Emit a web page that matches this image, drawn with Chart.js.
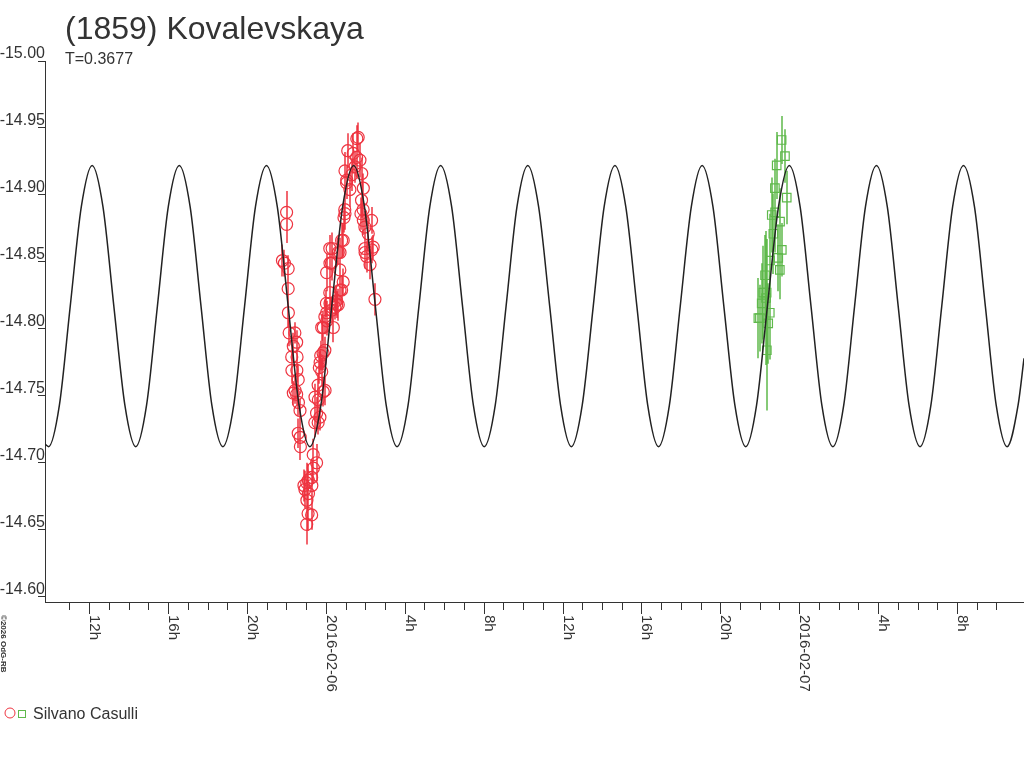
<!DOCTYPE html>
<html>
<head>
<meta charset="utf-8">
<title>(1859) Kovalevskaya</title>
<script src="https://cdn.jsdelivr.net/npm/chart.js@4.4.1/dist/chart.umd.min.js"></script>
<style>
  html, body { margin: 0; padding: 0; background: #fff; }
  #wrap { width: 1024px; height: 768px; }
</style>
</head>
<body>
<div id="wrap"><canvas id="lightcurve" width="1024" height="768"></canvas></div>
<script>
// time axis is in hours from 2016-02-06 00:00 UT, values are reduced magnitudes

// Silvano Casulli, first night (red circles)
const redHours = [
  -2.20, -2.10, -1.99, -1.99, -1.91, -1.91, -1.90, -1.86, -1.57, -1.48,
  -1.65, -1.73, -1.46, -1.72, -1.47, -1.40, -1.56, -1.65, -1.48, -1.39,
  -1.31, -1.40, -1.30, -1.29, -0.64, -0.47, -0.63, -0.72, -0.89, -0.97,
  -0.71, -1.06, -0.88, -0.96, -0.90, -0.72, -0.97, -1.11, -0.55, -0.39,
  -0.13, -0.38, -0.47, -0.30, -0.56, -0.39, -0.33, -0.21, -0.26, -0.14,
  -0.05, -0.29, -0.04, -0.13, -0.21, -0.05, 0.04, 0.05, 0.21, 0.29,
  0.38, 0.46, 0.55, 0.63, 0.54, 0.20, 0.03, 0.72, 0.80, 0.88,
  0.71, 0.04, 0.21, 0.29, 0.32, 0.20, 0.63, 0.72, 0.80, 0.88,
  0.97, 0.92, 0.96, 1.22, 1.05, 1.06, 0.97, 1.31, 1.11, 1.39,
  1.48, 1.56, 1.57, 1.64, 1.73, 1.82, 1.90, 1.81, 1.78, 1.89,
  1.90, 1.98, 2.32, 2.15, 1.98, 1.99, 2.33, 2.40, 2.07, 2.24, 2.49
];
const redMag = [
  -14.851, -14.849, -14.887, -14.878, -14.845, -14.830, -14.812, -14.797, -14.797, -14.790,
  -14.787, -14.779, -14.779, -14.769, -14.769, -14.762, -14.754, -14.752, -14.751, -14.745,
  -14.739, -14.722, -14.719, -14.712, -14.706, -14.700, -14.696, -14.689, -14.687, -14.685,
  -14.683, -14.680, -14.677, -14.672, -14.662, -14.661, -14.654, -14.683, -14.749, -14.758,
  -14.753, -14.747, -14.737, -14.734, -14.730, -14.730, -14.771, -14.768, -14.780, -14.782,
  -14.784, -14.775, -14.754, -14.801, -14.801, -14.809, -14.812, -14.806, -14.819, -14.814,
  -14.801, -14.816, -14.818, -14.818, -14.821, -14.827, -14.819, -14.829, -14.829, -14.835,
  -14.844, -14.842, -14.849, -14.849, -14.860, -14.860, -14.857, -14.857, -14.866, -14.866,
  -14.886, -14.883, -14.889, -14.904, -14.909, -14.911, -14.918, -14.915, -14.933, -14.931,
  -14.921, -14.928, -14.942, -14.943, -14.926, -14.916, -14.905, -14.896, -14.886, -14.889,
  -14.881, -14.876, -14.881, -14.871, -14.860, -14.857, -14.859, -14.861, -14.854, -14.848, -14.822
];
const redErr = [
  0.012, 0.010, 0.016, 0.014, 0.010, 0.009, 0.011, 0.010, 0.008, 0.009,
  0.010, 0.009, 0.008, 0.010, 0.009, 0.011, 0.010, 0.009, 0.008, 0.010,
  0.009, 0.011, 0.012, 0.010, 0.012, 0.014, 0.011, 0.013, 0.012, 0.015,
  0.012, 0.014, 0.013, 0.012, 0.013, 0.011, 0.015, 0.012, 0.010, 0.009,
  0.011, 0.010, 0.012, 0.010, 0.011, 0.009, 0.012, 0.010, 0.011, 0.013,
  0.010, 0.009, 0.011, 0.012, 0.010, 0.013, 0.009, 0.011, 0.012, 0.010,
  0.011, 0.009, 0.010, 0.012, 0.011, 0.013, 0.010, 0.012, 0.011, 0.010,
  0.012, 0.014, 0.011, 0.013, 0.012, 0.010, 0.009, 0.011, 0.013, 0.012,
  0.012, 0.011, 0.014, 0.013, 0.012, 0.011, 0.014, 0.012, 0.013, 0.015,
  0.012, 0.014, 0.010, 0.011, 0.013, 0.012, 0.011, 0.013, 0.012, 0.014,
  0.011, 0.012, 0.010, 0.013, 0.011, 0.012, 0.010, 0.009, 0.012, 0.011, 0.012
];

// Silvano Casulli, second night (green squares)
const greenHours = [
  23.11, 23.28, 22.86, 22.77, 23.37, 22.61, 22.78, 23.03, 22.69, 23.12,
  22.94, 23.02, 22.52, 22.27, 22.18, 22.35, 22.10, 22.01, 22.51, 22.43,
  22.36, 21.93, 22.32
];
const greenMag = [
  -14.941, -14.929, -14.922, -14.905, -14.898, -14.885, -14.887, -14.880, -14.871, -14.859,
  -14.853, -14.844, -14.851, -14.840, -14.827, -14.827, -14.819, -14.808, -14.812, -14.804,
  -14.784, -14.808, -14.823
];
const greenErr = [
  0.018, 0.020, 0.025, 0.022, 0.020, 0.028, 0.030, 0.025, 0.030, 0.020,
  0.025, 0.022, 0.035, 0.030, 0.035, 0.040, 0.030, 0.025, 0.035, 0.030,
  0.045, 0.030, 0.050
];

// fitted lightcurve (troughs, peaks and the points between)
const curveHours = [
  -14.24,
  -14.06, -13.51, -12.96, -12.40, -11.85, -11.30, -10.75, -10.19,
  -9.64, -9.09, -8.54, -7.99, -7.43, -6.88, -6.33, -5.78,
  -5.22, -4.67, -4.12, -3.57, -3.01, -2.46, -1.91, -1.36,
  -0.81, -0.25, 0.30, 0.85, 1.41, 1.96, 2.51, 3.06,
  3.61, 4.17, 4.72, 5.27, 5.82, 6.38, 6.93, 7.48,
  8.03, 8.59, 9.14, 9.69, 10.24, 10.79, 11.35, 11.90,
  12.45, 13.00, 13.56, 14.11, 14.66, 15.21, 15.77, 16.32,
  16.87, 17.42, 17.97, 18.53, 19.08, 19.63, 20.18, 20.74,
  21.29, 21.84, 22.39, 22.95, 23.50, 24.05, 24.60, 25.15,
  25.71, 26.26, 26.81, 27.36, 27.92, 28.47, 29.02, 29.57,
  30.13, 30.68, 31.23, 31.78, 32.33, 32.89, 33.44, 33.99,
  34.54, 35.10, 35.40
];
const curveMag = [
  -14.714,
  -14.712, -14.743, -14.817, -14.891, -14.922, -14.891, -14.817, -14.743,
  -14.712, -14.743, -14.817, -14.891, -14.922, -14.891, -14.817, -14.743,
  -14.712, -14.743, -14.817, -14.891, -14.922, -14.891, -14.817, -14.743,
  -14.712, -14.743, -14.817, -14.891, -14.922, -14.891, -14.817, -14.743,
  -14.712, -14.743, -14.817, -14.891, -14.922, -14.891, -14.817, -14.743,
  -14.712, -14.743, -14.817, -14.891, -14.922, -14.891, -14.817, -14.743,
  -14.712, -14.743, -14.817, -14.891, -14.922, -14.891, -14.817, -14.743,
  -14.712, -14.743, -14.817, -14.891, -14.922, -14.891, -14.817, -14.743,
  -14.712, -14.743, -14.817, -14.891, -14.922, -14.891, -14.817, -14.743,
  -14.712, -14.743, -14.817, -14.891, -14.922, -14.891, -14.817, -14.743,
  -14.712, -14.743, -14.817, -14.891, -14.922, -14.891, -14.817, -14.743,
  -14.712, -14.743, -14.778
];

// labelled hour ticks on the time axis
const majorTickHours = [-12, -8, -4, 0, 4, 8, 12, 16, 20, 24, 28, 32];
const majorTickLabels = ["12h", "16h", "20h", "2016-02-06", "4h", "8h", "12h", "16h", "20h", "2016-02-07", "4h", "8h"];

const FONT = '"Liberation Sans", Arial, sans-serif';
const INK = "#333";
const RED = "#ee3440";
const GREEN = "#5fb94b";

function toPoints(xs, ys) {
    return xs.map((x, i) => ({ x: x, y: ys[i] }));
}

// vertical error bars under the markers
const errorBars = {
    id: "errorBars",
    beforeDatasetsDraw(chart) {
        const ctx = chart.ctx;
        const yScale = chart.scales.y;
        chart.data.datasets.forEach((ds, i) => {
            if (!ds.errors) return;
            const meta = chart.getDatasetMeta(i);
            ctx.save();
            ctx.strokeStyle = ds.borderColor;
            ctx.lineWidth = 1.5;
            ctx.beginPath();
            meta.data.forEach((pt, j) => {
                const v = ds.data[j].y;
                const e = ds.errors[j];
                const px = Math.round(pt.x);
                ctx.moveTo(px, yScale.getPixelForValue(v - e));
                ctx.lineTo(px, yScale.getPixelForValue(v + e));
            });
            ctx.stroke();
            ctx.restore();
        });
    }
};

// hour ticks, rotated labels, title, legend
const decorations = {
    id: "decorations",
    afterDraw(chart) {
        const ctx = chart.ctx;
        const xScale = chart.scales.x;
        const base = chart.chartArea.bottom;

        ctx.save();
        ctx.strokeStyle = INK;
        ctx.lineWidth = 1;
        ctx.beginPath();
        xScale.ticks.forEach(t => {
            const h = Math.round(t.value);
            if (Math.abs(t.value - h) > 1e-6) return;
            const px = Math.round(xScale.getPixelForValue(h)) + 0.5;
            ctx.moveTo(px, base);
            ctx.lineTo(px, base + (majorTickHours.includes(h) ? 12 : 8));
        });
        ctx.stroke();

        ctx.fillStyle = INK;
        ctx.font = "15px " + FONT;
        ctx.textAlign = "left";
        ctx.textBaseline = "alphabetic";
        majorTickHours.forEach((h, i) => {
            const px = xScale.getPixelForValue(h);
            ctx.save();
            ctx.translate(px + 1, base + 13);
            ctx.rotate(Math.PI / 2);
            ctx.fillText(majorTickLabels[i], 0, 0);
            ctx.restore();
        });

        // small credit on the left edge
        ctx.save();
        ctx.font = "bold 8px " + FONT;
        ctx.translate(1, 615);
        ctx.rotate(Math.PI / 2);
        ctx.fillText("©2026 OdG-RB", 0, 0);
        ctx.restore();

        // title
        ctx.font = "32px " + FONT;
        ctx.fillText("(1859) Kovalevskaya", 65, 39);
        ctx.font = "16px " + FONT;
        ctx.fillText("T=0.3677", 65, 64);

        // legend
        ctx.strokeStyle = RED;
        ctx.beginPath();
        ctx.arc(10, 713, 5, 0, Math.PI * 2);
        ctx.stroke();
        ctx.strokeStyle = GREEN;
        ctx.strokeRect(18.5, 710.5, 7, 7);
        ctx.fillStyle = INK;
        ctx.font = "16px " + FONT;
        ctx.fillText("Silvano Casulli", 33, 719);
        ctx.restore();
    }
};

Chart.defaults.font.family = FONT;
Chart.defaults.color = INK;

new Chart(document.getElementById("lightcurve"), {
    type: "scatter",
    data: {
        datasets: [
            {
                label: "fit",
                data: toPoints(curveHours, curveMag),
                showLine: true,
                borderColor: "#222",
                borderWidth: 1.5,
                pointRadius: 0,
                cubicInterpolationMode: "monotone",
                order: 0
            },
            {
                label: "Silvano Casulli",
                data: toPoints(redHours, redMag),
                errors: redErr,
                borderColor: RED,
                backgroundColor: "rgba(0,0,0,0)",
                pointStyle: "circle",
                pointRadius: 6,
                pointBorderWidth: 1.2,
                order: 1
            },
            {
                label: "Silvano Casulli",
                data: toPoints(greenHours, greenMag),
                errors: greenErr,
                borderColor: GREEN,
                backgroundColor: "rgba(0,0,0,0)",
                pointStyle: "rect",
                pointRadius: 6,
                pointBorderWidth: 1.2,
                order: 2
            }
        ]
    },
    options: {
        responsive: false,
        devicePixelRatio: 1,
        animation: false,
        events: [],
        layout: { autoPadding: false, padding: { top: 61, bottom: 166, left: 0, right: 0 } },
        plugins: {
            legend: { display: false },
            tooltip: { enabled: false }
        },
        scales: {
            x: {
                type: "linear",
                min: -14.24,
                max: 35.40,
                afterFit(scale) { scale.height = 0; },
                border: { display: true, color: INK, width: 1 },
                grid: { display: false },
                ticks: { display: false, stepSize: 1 }
            },
            y: {
                type: "linear",
                reverse: true,
                min: -15,
                max: -14.596,
                afterFit(scale) { scale.width = 45; },
                border: { display: true, color: INK, width: 1 },
                grid: { drawOnChartArea: false, drawTicks: true, tickLength: 7, color: INK, tickColor: INK },
                ticks: {
                    stepSize: 0.05,
                    includeBounds: false,
                    padding: -7,
                    labelOffset: -7,
                    color: INK,
                    font: { size: 16 },
                    callback: v => v.toFixed(2)
                }
            }
        }
    },
    plugins: [errorBars, decorations]
});
</script>
</body>
</html>
